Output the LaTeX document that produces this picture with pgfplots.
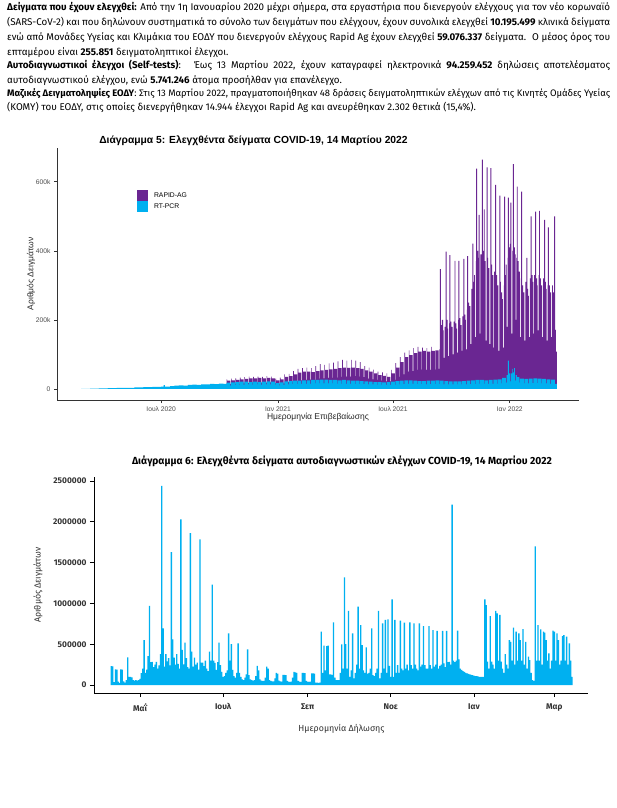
\documentclass[border=0pt]{standalone}
\usepackage{fontspec}
\setmainfont{Fira Sans}
\newfontfamily\arialf{Liberation Sans}
\usepackage{pgfplots}
\pgfplotsset{compat=1.18}
\definecolor{rapid}{RGB}{106,38,146}
\definecolor{pcr}{RGB}{0,176,240}
\definecolor{selfb}{RGB}{0,176,240}
\definecolor{tickgray}{RGB}{77,77,77}
\definecolor{axisgray}{RGB}{51,51,51}
\definecolor{darktxt}{RGB}{51,51,51}
\newcommand\jline[1]{\makebox[603pt][s]{#1}}
\begin{document}
\begin{tikzpicture}[x=1pt,y=1pt]
\useasboundingbox (0,0) rectangle (617,-808);
\fill[white] (0,0) rectangle (617,-808);
\begin{scope}[every node/.style={anchor=base west, inner sep=0pt, font=\fontsize{9.8}{12}\selectfont}]
\node at (7,-11) {\jline{\textbf{Δείγματα που έχουν ελεγχθεί:} Από την 1η Ιανουαρίου 2020 μέχρι σήμερα, στα εργαστήρια που διενεργούν ελέγχους για τον νέο κορωναϊό}};
\node at (7,-26) {\jline{(SARS-CoV-2) και που δηλώνουν συστηματικά το σύνολο των δειγμάτων που ελέγχουν, έχουν συνολικά ελεγχθεί \textbf{10.195.499} κλινικά δείγματα}};
\node at (7,-41) {\jline{ενώ από Μονάδες Υγείας και Κλιμάκια του ΕΟΔΥ που διενεργούν ελέγχους Rapid Ag έχουν ελεγχθεί \textbf{59.076.337} δείγματα. \ Ο μέσος όρος του}};
\node at (7,-56) {επταμέρου είναι \textbf{255.851} δειγματοληπτικοί έλεγχοι.};
\node at (7,-69) {\jline{\textbf{Αυτοδιαγνωστικοί έλεγχοι (Self-tests)}: \ Έως 13 Μαρτίου 2022, έχουν καταγραφεί ηλεκτρονικά \textbf{94.259.452} δηλώσεις αποτελέσματος}};
\node at (7,-83) {αυτοδιαγνωστικού ελέγχου, ενώ \textbf{5.741.246} άτομα προσήλθαν για επανέλεγχο.};
\node[font=\fontsize{9.45}{12}\selectfont] at (7,-96) {\jline{\textbf{Μαζικές Δειγματοληψίες ΕΟΔΥ}: Στις 13 Μαρτίου 2022, πραγματοποιήθηκαν 48 δράσεις δειγματοληπτικών ελέγχων από τις Κινητές Ομάδες Υγείας}};
\node at (7,-110) {(ΚΟΜΥ) του ΕΟΔΥ, στις οποίες διενεργήθηκαν 14.944 έλεγχοι Rapid Ag και ανευρέθηκαν 2.302 θετικά (15,4\%).};
\end{scope}
% chart 5 texts
\node[anchor=base, inner sep=0pt, font=\arialf\bfseries\fontsize{10.3}{12}\selectfont] at (253.5,-143) {Διάγραμμα 5: Ελεγχθέντα δείγματα COVID-19, 14 Μαρτίου 2022};
\node[inner sep=0pt, font=\arialf\fontsize{8.5}{10}\selectfont, text=black!85] at (318,-417) {Ημερομηνία Επιβεβαίωσης};
\node[inner sep=0pt, rotate=90, font=\arialf\fontsize{8.5}{10}\selectfont, text=black!85] at (31,-274) {Αριθμός Δειγμάτων};
\begin{axis}[
  at={(57pt,-400pt)}, anchor=south west,
  scale only axis, width=522pt, height=252pt,
  xmin=18, xmax=840, ymin=-32, ymax=698,
  axis lines*=left,
  axis line style={axisgray, line width=0.9pt},
  tick align=outside, major tick length=3pt,
  tick style={axisgray, line width=0.7pt},
  xtick={182,366,547,731},
  xticklabels={Ιουλ 2020, Ιαν 2021, Ιουλ 2021, Ιαν 2022},
  ytick={0,200,400,600},
  yticklabels={0,200k,400k,600k},
  ticklabel style={font=\arialf\fontsize{6.7}{8}\selectfont, text=tickgray},
  legend style={at={(0.153,0.833)}, anchor=north west, draw=none, fill=none, inner sep=0pt, row sep=0pt, column sep=4pt, font=\arialf\fontsize{6.8}{8}\selectfont},
  legend cell align=left,
  legend image code/.code={\fill[#1] (0pt,-5.5pt) rectangle (11pt,5.5pt);},
]
\addplot[const plot, fill=rapid, draw=none] coordinates {
(285,28)(286,24)(291,14)(292,30)(293,25)(298,15)(299,31)(300,26)(305,15)(306,33)(307,28)(312,16)
(313,34)(314,29)(319,17)(320,36)(321,31)(326,18)(327,35)(328,31)(333,18)(334,36)(335,32)(340,18)
(341,35)(342,31)(347,18)(348,37)(349,32)(354,19)(355,36)(356,31)(361,17)(362,30)(363,25)(368,14)
(369,33)(370,28)(375,16)(376,42)(377,35)(382,20)(383,44)(384,37)(389,21)(390,52)(391,42)(396,23)
(397,58)(398,47)(403,25)(404,60)(405,50)(410,26)(411,62)(412,50)(417,27)(418,60)(419,49)(424,26)
(425,66)(426,52)(431,30)(432,72)(433,54)(438,31)(439,70)(440,55)(445,32)(446,74)(447,57)(452,32)
(453,76)(454,58)(459,33)(460,80)(461,60)(466,35)(467,84)(468,62)(473,36)(474,82)(475,61)(480,36)
(481,84)(482,62)(487,37)(488,82)(489,60)(494,36)(495,78)(496,58)(501,34)(502,66)(503,54)(508,30)
(509,62)(510,50)(515,28)(516,56)(517,45)(522,26)(523,50)(524,40)(529,24)(530,48)(531,38)(536,22)
(537,45)(538,35)(543,22)(544,55)(545,45)(550,26)(551,75)(552,62)(557,35)(558,92)(559,78)(564,42)
(565,105)(566,92)(571,50)(572,112)(573,98)(578,52)(579,118)(580,104)(585,55)(586,122)(587,108)(592,56)
(593,120)(594,110)(599,55)(600,118)(601,108)(606,55)(607,122)(608,110)(613,56)(614,112)(619,58)(620,115)
(621,347)(622.5,185)(624,200)(626,170)(627,90)(628.5,180)(630,398)(631.5,200)(633,175)(634,95)(635.5,190)
(636,388)(637.5,195)(639,180)(641,100)(642.5,195)(644,371)(645.5,190)(647,175)(648,105)(649.5,200)
(650,371)(651.5,205)(653,185)(655,110)(656.5,210)(658,377)(659.5,215)(661,200)(662,115)(663.5,230)
(664,385)(665.5,250)(667,240)(669,130)(670.5,290)(672,421)(673.5,310)(675,330)(676,150)(677.5,370)
(678,638)(679.5,400)(681,380)(682,504)(683.5,160)(684.5,390)(687,664)(688.5,400)(690,520)(691.5,370)
(693,140)(694.5,642)(696,380)(697,350)(699,130)(700.5,640)(702,360)(703,330)(705,120)(706.5,340)
(708,591)(709.5,330)(711,300)(713,110)(714.5,560)(716,310)(717,280)(719,260)(720,120)(721.5,300)
(722,557)(723.5,330)(725,360)(726,180)(727.5,380)(728,554)(729.5,410)(731,420)(732,540)(733.5,160)
(735,400)(736,651)(737.5,410)(739,390)(740,200)(741.5,380)(742,586)(743.5,370)(745,340)(747,150)
(748.5,320)(749,572)(750.5,300)(752,280)(754,140)(755.5,310)(757,380)(758.5,290)(760,270)(761,150)
(762.5,320)(764,500)(765.5,330)(767,310)(768,160)(769.5,330)(771,514)(772.5,320)(774,300)(775,170)
(776.5,330)(777,516)(778.5,320)(780,300)(782,150)(783.5,320)(785,490)(786.5,310)(788,290)(789,140)
(790.5,300)(791,468)(792.5,300)(794,280)(796,150)(797.5,300)(799,280)(801,500)(802.5,171)(803.5,108)(805,108)
} \closedcycle;
\addlegendentry{RAPID-AG}
\addplot[const plot, fill=pcr, draw=none] coordinates {
(56,0.5)(70,1)(84,1.5)(98,2.5)(112,3)(126,3.5)(140,4.5)(154,5.5)(168,6)(182,7)(186,11)(188,7)
(196,8.5)(203,9.5)(210,10.5)(217,10)(224,12)(231,12.5)(238,11.5)(245,13)(252,13.5)(259,14.5)(266,14)(273,15.5)(280,15)
(285,18)(291,10)(292,19)(298,11)(299,20)(305,12)(306,21)(312,12)(313,21)(319,13)(320,20)(326,12)
(327,21)(333,13)(334,20)(340,12)(341,21)(347,13)(348,22)(354,13)(355,21)(361,12)(362,17)(368,10)
(369,19)(375,11)(376,22)(382,13)(383,23)(389,14)(390,24)(396,14)(397,24)(403,15)(404,25)(410,15)
(411,25)(417,15)(418,26)(424,16)(425,26)(431,16)(432,27)(438,16)(439,27)(445,16)(446,26)(452,16)
(453,26)(459,15)(460,25)(466,15)(467,26)(473,15)(474,25)(480,15)(481,24)(487,14)(488,24)(494,14)
(495,23)(501,14)(502,22)(508,13)(509,21)(515,13)(516,20)(522,12)(523,20)(529,12)(530,19)(536,12)
(537,20)(543,12)(544,21)(550,12)(551,23)(557,13)(558,24)(564,14)(565,25)(571,15)(572,25)(578,15)
(579,24)(585,14)(586,23)(592,14)(593,23)(599,13)(600,24)(606,14)(607,24)(613,14)(614,25)(620,14)
(621,24)(627,13)(628,23)(634,13)(635,22)(641,13)(642,22)(648,13)(649,22)(655,13)(656,23)(662,13)
(663,24)(669,14)(670,25)(676,14)(677,26)(683,15)(684,26)(690,15)(691,25)(697,15)(698,26)(704,15)
(705,27)(711,15)(712,28)(718,16)(719,32)(725,18)(726,40)(728,82)(729.5,45)(732,22)(733,45)(735,58)
(736,48)(738,60)(739,24)(740,40)(742,34)(746,18)(747,30)(753,16)(754,29)(760,16)(761,30)(767,17)
(768,31)(774,17)(775,30)(781,16)(782,29)(788,16)(789,28)(795,15)(796,27)(802,15)(805,15)
} \closedcycle;
\addlegendentry{RT-PCR}
\end{axis}
% chart 6 texts
\node[inner sep=0pt, font=\bfseries\fontsize{10.3}{12}\selectfont] at (342,-461) {Διάγραμμα 6: Ελεγχθέντα δείγματα αυτοδιαγνωστικών ελέγχων COVID-19, 14 Μαρτίου 2022};
\node[inner sep=0pt, font=\fontsize{8.8}{10}\selectfont, text=darktxt] at (341.5,-729) {Ημερομηνία Δήλωσης};
\node[inner sep=0pt, rotate=90, font=\fontsize{8.8}{10}\selectfont, text=darktxt] at (38,-585) {Αριθμός Δειγμάτων};
\begin{axis}[
  at={(94pt,-693pt)}, anchor=south west,
  scale only axis, width=494pt, height=216pt,
  xmin=86.25, xmax=448.7, ymin=-98, ymax=2549,
  axis lines*=left,
  axis line style={black, line width=0.8pt},
  tick align=outside, major tick length=4pt,
  tick style={black, line width=0.8pt},
  xtick={120,181,243,304,365,424},
  xticklabels={Μαΐ,Ιουλ,Σεπ,Νοε,Ιαν,Μαρ},
  ytick={0,500,1000,1500,2000,2500},
  yticklabels={0,500000,1000000,1500000,2000000,2500000},
  ticklabel style={font=\bfseries\fontsize{8.3}{10}\selectfont, text=darktxt},
  xticklabel style={yshift=-3pt},
]
\addplot[ybar, bar width=1, fill=selfb, draw=none] coordinates {
(99,230)(100,228)(101,35)(102,192)(103,190)(104,40)(105,25)(106,192)(107,188)(108,45)(109,30)(110,60)
(111,340)(112,100)(113,100)(114,95)(115,60)(116,55)(117,60)(118,55)(119,60)(120,75)(121,145)(122,200)
(123,550)(124,150)(125,190)(126,355)(127,970)(128,280)(129,285)(130,220)(131,250)(132,285)(133,200)(134,240)
(135,380)(136,2440)(137,695)(138,225)(139,380)(140,290)(141,330)(142,240)(143,1630)(144,560)(145,335)(146,250)
(147,380)(148,260)(149,200)(150,2030)(151,430)(152,253)(153,520)(154,330)(155,220)(156,200)(157,1860)(158,410)
(159,225)(160,335)(161,250)(162,274)(163,190)(164,1785)(165,274)(166,274)(167,230)(168,300)(169,200)(170,170)
(171,410)(172,300)(173,1230)(174,300)(175,270)(176,184)(177,280)(178,520)(179,245)(180,160)(181,100)(182,110)
(183,150)(184,180)(185,633)(186,300)(187,500)(188,184)(189,110)(190,90)(191,150)(192,510)(193,150)(194,100)
(195,70)(196,60)(197,90)(198,130)(199,437)(200,120)(201,70)(202,60)(203,55)(204,60)(205,110)(206,233)
(207,180)(208,70)(209,55)(210,50)(211,50)(212,90)(213,225)(214,200)(215,60)(216,50)(217,45)(218,45)
(219,80)(220,150)(221,140)(222,55)(223,45)(224,40)(225,125)(226,125)(227,120)(228,50)(229,40)(230,38)
(231,40)(232,90)(233,160)(234,155)(235,150)(236,50)(237,40)(238,38)(239,150)(240,150)(241,145)(242,50)
(243,40)(244,38)(245,40)(246,143)(247,143)(248,140)(249,30)(250,28)(251,25)(252,30)(253,654)(254,150)
(255,482)(256,180)(257,478)(258,482)(259,130)(260,130)(261,125)(262,768)(263,90)(264,60)(265,60)(266,60)
(267,150)(268,498)(269,200)(270,1320)(271,500)(272,200)(273,907)(274,100)(275,180)(276,633)(277,80)(278,150)
(279,250)(280,960)(281,200)(282,735)(283,490)(284,180)(285,150)(286,462)(287,140)(288,150)(289,200)(290,694)
(291,120)(292,110)(293,150)(294,200)(295,907)(296,80)(297,150)(298,756)(299,200)(300,797)(301,150)(302,805)
(303,233)(304,100)(305,1050)(306,100)(307,797)(308,150)(309,245)(310,150)(311,788)(312,200)(313,180)(314,764)
(315,200)(316,250)(317,180)(318,768)(319,245)(320,200)(321,756)(322,250)(323,200)(324,180)(325,756)(326,225)
(327,250)(328,723)(329,245)(330,200)(331,200)(332,723)(333,245)(334,200)(335,674)(336,225)(337,250)(338,662)
(339,200)(340,233)(341,250)(342,662)(343,265)(344,220)(345,662)(346,280)(347,285)(348,250)(349,2210)(350,300)
(351,280)(352,300)(353,666)(354,315)(355,200)(356,184)(357,170)(358,160)(359,150)(360,143)(361,135)(362,130)
(363,125)(364,120)(365,115)(366,110)(367,108)(368,105)(369,100)(370,100)(371,100)(372,100)(373,1050)(374,980)
(375,286)(376,200)(377,845)(378,286)(379,250)(380,200)(381,907)(382,878)(383,300)(384,858)(385,286)(386,200)
(387,150)(388,380)(389,250)(390,200)(391,551)(392,530)(393,300)(394,703)(395,250)(396,654)(397,300)(398,633)
(399,551)(400,300)(401,686)(402,250)(403,530)(404,200)(405,347)(406,306)(407,150)(408,60)(409,50)(410,1700)
(411,300)(412,735)(413,300)(414,682)(415,250)(416,654)(417,642)(418,551)(419,300)(420,388)(421,200)(422,300)
(423,666)(424,654)(425,300)(426,633)(427,551)(428,250)(429,300)(430,600)(431,612)(432,300)(433,592)(434,250)
(435,510)(436,300)(437,100)
};
\end{axis}
\end{tikzpicture}
\end{document}
